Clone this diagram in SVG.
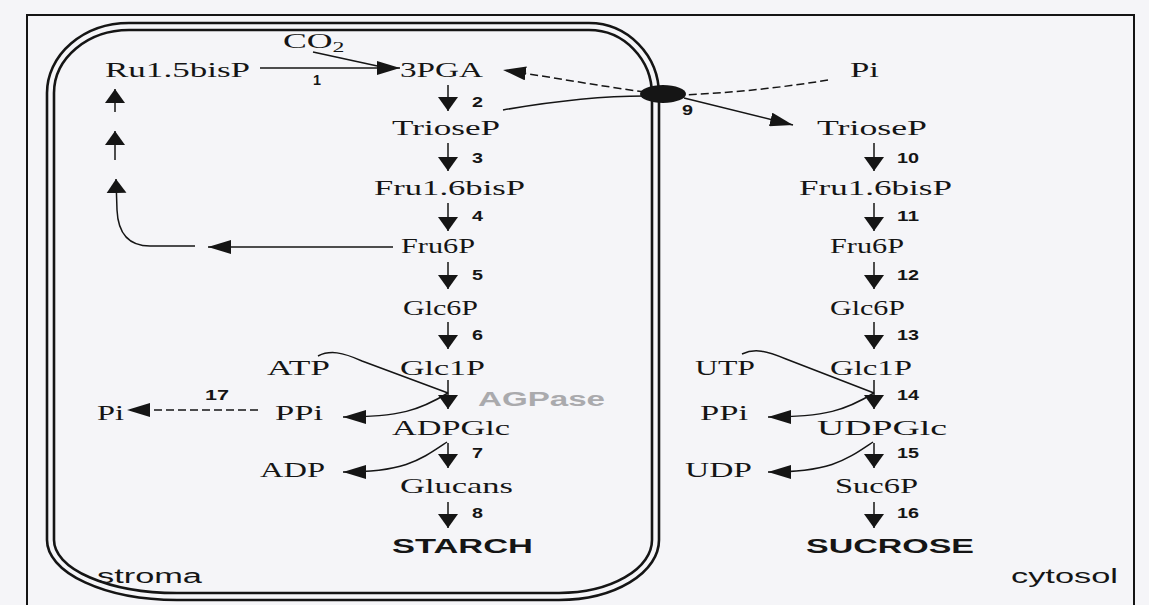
<svg xmlns="http://www.w3.org/2000/svg" width="1149" height="605" viewBox="0 0 1149 605">
<style>
.s{font-family:"Liberation Serif",serif;font-size:21px;fill:#151515}
.n{font-family:"Liberation Sans",sans-serif;font-weight:bold;font-size:14px;fill:#151515}
.b{font-family:"Liberation Sans",sans-serif;font-weight:bold;font-size:19.5px;fill:#151515}
.r{font-family:"Liberation Sans",sans-serif;font-size:19.5px;fill:#151515}
.ln{fill:none;stroke:#151515;stroke-width:1.5}
.dl{fill:none;stroke:#151515;stroke-width:1.5;stroke-dasharray:8,4}
.v{marker-end:url(#mv)}
.h{marker-end:url(#mh)}
.mem{fill:none;stroke:#151515;stroke-width:2.6}
</style>
<defs>
<marker id="mv" markerUnits="userSpaceOnUse" markerWidth="15" markerHeight="21" refX="14" refY="10" orient="auto"><path d="M0,0 L14,10 L0,20 Z" fill="#151515"/></marker>
<marker id="mh" markerUnits="userSpaceOnUse" markerWidth="24" markerHeight="14" refX="23" refY="7" orient="auto"><path d="M0,0 L23,7 L0,14 Z" fill="#151515"/></marker>
</defs>
<rect x="0" y="0" width="1149" height="605" fill="#f5f5f8"/>
<rect id="frame" x="27" y="15" width="1107" height="600" fill="none" stroke="#151515" stroke-width="2"/>
<g id="chloroplast">
<path class="mem" d="M129,23 L589,23 A70,72 0 0 1 659,95 L659,540 A100,60 0 0 1 559,600 L177,600 A130,60 0 0 1 47,540 L47,93 A82,70 0 0 1 129,23 Z"/>
<path class="mem" d="M129,30 L589,30 A63,65 0 0 1 652,95 L652,540 A93,53 0 0 1 559,593 L177,593 A123,53 0 0 1 54,540 L54,93 A75,63 0 0 1 129,30 Z"/>
</g>
<g id="connectors">
<path class="ln h" d="M260,68 L400,68"/>
<path class="ln" d="M313,52 L382,67"/>
<path class="ln v" d="M115,112 L115,89"/>
<path class="ln v" d="M115,160 L115,131"/>
<path class="ln v" d="M195,246 L150,246 C128,246 118,232 117,210 L116,179"/>
<path class="ln h" d="M393,247 L208,247"/>
<path class="ln v" d="M448,85 L448,111"/>
<path class="ln v" d="M448,143 L448,171"/>
<path class="ln v" d="M448,203 L448,231"/>
<path class="ln v" d="M448,262 L448,289"/>
<path class="ln v" d="M448,322 L448,349"/>
<path class="ln v" d="M448,380 L448,409"/>
<path class="ln v" d="M448,443 L448,468"/>
<path class="ln v" d="M448,502 L448,528"/>
<path class="ln" d="M318,356 C330,350 342,352 362,361 L448,393"/>
<path class="ln h" d="M448,393 C420,410 400,417 343,417"/>
<path class="ln h" d="M447,442 C420,460 405,472 343,472"/>
<path class="dl h" d="M258,410 L127,410"/>
<path class="dl h" d="M645,92 C600,86 550,77 503,70"/>
<path class="dl" d="M828,80 C780,88 730,93 682,95"/>
<path class="ln" d="M503,110 C560,100 600,96 645,96"/>
<path class="ln h" d="M684,98 L793,125"/>
<path class="ln v" d="M874,143 L874,171"/>
<path class="ln v" d="M874,203 L874,231"/>
<path class="ln v" d="M874,262 L874,289"/>
<path class="ln v" d="M874,322 L874,349"/>
<path class="ln v" d="M874,380 L874,409"/>
<path class="ln v" d="M874,443 L874,468"/>
<path class="ln v" d="M874,502 L874,528"/>
<path class="ln" d="M742,354 C755,348 766,351 786,359 L874,393"/>
<path class="ln h" d="M874,393 C846,410 826,417 768,417"/>
<path class="ln h" d="M873,442 C846,460 831,472 768,472"/>
</g>
<g id="transporter"><ellipse cx="663" cy="94" rx="23" ry="9" fill="#151515"/></g>
<g id="co2"><g transform="translate(283,48) scale(1.7,1)"><text class="s" x="0" y="0">CO<tspan font-size="14" dy="4">2</tspan></text></g></g>
<g id="ru15bisp"><text class="s" x="105" y="77" textLength="145" lengthAdjust="spacingAndGlyphs">Ru1.5bisP</text></g>
<g id="pga"><text class="s" x="400" y="77" textLength="83" lengthAdjust="spacingAndGlyphs">3PGA</text></g>
<g id="pi-cyt"><text class="s" x="850" y="77" textLength="29" lengthAdjust="spacingAndGlyphs">Pi</text></g>
<g id="triosep-s"><text class="s" x="392" y="135" textLength="108" lengthAdjust="spacingAndGlyphs">TrioseP</text></g>
<g id="fru16-s"><text class="s" x="374" y="195" textLength="151" lengthAdjust="spacingAndGlyphs">Fru1.6bisP</text></g>
<g id="fru6p-s"><text class="s" x="401" y="253" textLength="74" lengthAdjust="spacingAndGlyphs">Fru6P</text></g>
<g id="glc6p-s"><text class="s" x="403" y="315" textLength="75" lengthAdjust="spacingAndGlyphs">Glc6P</text></g>
<g id="glc1p-s"><text class="s" x="400" y="375" textLength="85" lengthAdjust="spacingAndGlyphs">Glc1P</text></g>
<g id="atp"><text class="s" x="267" y="375" textLength="63" lengthAdjust="spacingAndGlyphs">ATP</text></g>
<g id="ppi-s"><text class="s" x="275" y="420" textLength="48" lengthAdjust="spacingAndGlyphs">PPi</text></g>
<g id="pi-s"><text class="s" x="97" y="420" textLength="27" lengthAdjust="spacingAndGlyphs">Pi</text></g>
<g id="agpase"><text class="b" x="478" y="406" textLength="127" lengthAdjust="spacingAndGlyphs" style="fill:#aaaaad">AGPase</text></g>
<g id="adpglc"><text class="s" x="392" y="435" textLength="118" lengthAdjust="spacingAndGlyphs">ADPGlc</text></g>
<g id="adp"><text class="s" x="260" y="477" textLength="65" lengthAdjust="spacingAndGlyphs">ADP</text></g>
<g id="glucans"><text class="s" x="400" y="493" textLength="113" lengthAdjust="spacingAndGlyphs">Glucans</text></g>
<g id="starch"><text class="b" x="392" y="553" textLength="141" lengthAdjust="spacingAndGlyphs">STARCH</text></g>
<g id="stroma"><text class="r" x="97" y="583" textLength="105" lengthAdjust="spacingAndGlyphs">stroma</text></g>
<g id="triosep-c"><text class="s" x="817" y="135" textLength="110" lengthAdjust="spacingAndGlyphs">TrioseP</text></g>
<g id="fru16-c"><text class="s" x="799" y="195" textLength="153" lengthAdjust="spacingAndGlyphs">Fru1.6bisP</text></g>
<g id="fru6p-c"><text class="s" x="830" y="253" textLength="74" lengthAdjust="spacingAndGlyphs">Fru6P</text></g>
<g id="glc6p-c"><text class="s" x="830" y="315" textLength="75" lengthAdjust="spacingAndGlyphs">Glc6P</text></g>
<g id="glc1p-c"><text class="s" x="830" y="375" textLength="82" lengthAdjust="spacingAndGlyphs">Glc1P</text></g>
<g id="utp"><text class="s" x="695" y="375" textLength="60" lengthAdjust="spacingAndGlyphs">UTP</text></g>
<g id="ppi-c"><text class="s" x="700" y="420" textLength="48" lengthAdjust="spacingAndGlyphs">PPi</text></g>
<g id="udpglc"><text class="s" x="817" y="435" textLength="130" lengthAdjust="spacingAndGlyphs">UDPGlc</text></g>
<g id="udp"><text class="s" x="685" y="477" textLength="67" lengthAdjust="spacingAndGlyphs">UDP</text></g>
<g id="suc6p"><text class="s" x="835" y="493" textLength="83" lengthAdjust="spacingAndGlyphs">Suc6P</text></g>
<g id="sucrose"><text class="b" x="806" y="553" textLength="168" lengthAdjust="spacingAndGlyphs">SUCROSE</text></g>
<g id="cytosol"><text class="r" x="1011" y="583" textLength="107" lengthAdjust="spacingAndGlyphs">cytosol</text></g>
<g id="step-labels">
<text class="n" x="313" y="85" textLength="8" lengthAdjust="spacingAndGlyphs">1</text>
<text class="n" x="472" y="107" textLength="11" lengthAdjust="spacingAndGlyphs">2</text>
<text class="n" x="472" y="163" textLength="11" lengthAdjust="spacingAndGlyphs">3</text>
<text class="n" x="472" y="221" textLength="11" lengthAdjust="spacingAndGlyphs">4</text>
<text class="n" x="472" y="280" textLength="11" lengthAdjust="spacingAndGlyphs">5</text>
<text class="n" x="472" y="340" textLength="11" lengthAdjust="spacingAndGlyphs">6</text>
<text class="n" x="472" y="458" textLength="11" lengthAdjust="spacingAndGlyphs">7</text>
<text class="n" x="472" y="518" textLength="11" lengthAdjust="spacingAndGlyphs">8</text>
<text class="n" x="682" y="115" textLength="11" lengthAdjust="spacingAndGlyphs">9</text>
<text class="n" x="897" y="163" textLength="22" lengthAdjust="spacingAndGlyphs">10</text>
<text class="n" x="897" y="221" textLength="22" lengthAdjust="spacingAndGlyphs">11</text>
<text class="n" x="897" y="280" textLength="22" lengthAdjust="spacingAndGlyphs">12</text>
<text class="n" x="897" y="340" textLength="22" lengthAdjust="spacingAndGlyphs">13</text>
<text class="n" x="897" y="400" textLength="22" lengthAdjust="spacingAndGlyphs">14</text>
<text class="n" x="897" y="458" textLength="22" lengthAdjust="spacingAndGlyphs">15</text>
<text class="n" x="897" y="518" textLength="22" lengthAdjust="spacingAndGlyphs">16</text>
<text class="n" x="205" y="400" textLength="24" lengthAdjust="spacingAndGlyphs">17</text>
</g>
</svg>
